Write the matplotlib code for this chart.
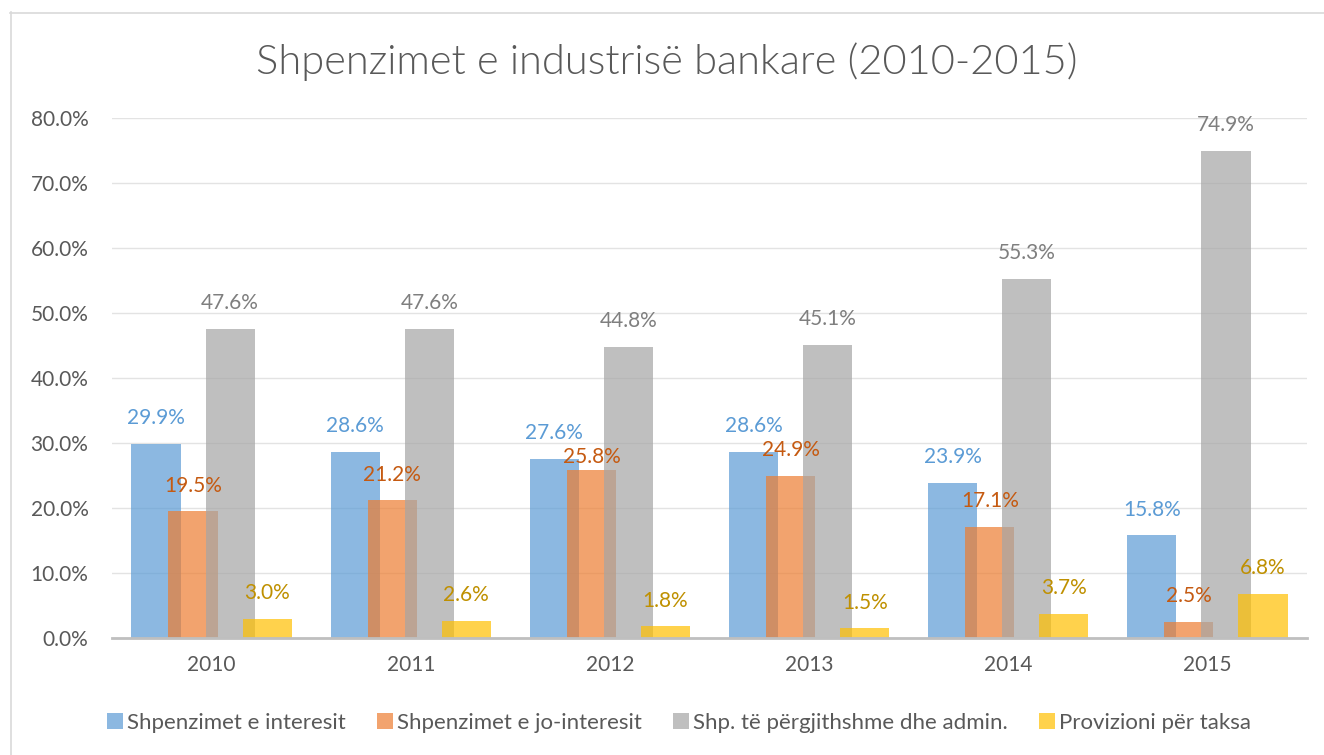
import matplotlib
matplotlib.use("Agg")
import matplotlib.pyplot as plt
from matplotlib.lines import Line2D
from matplotlib.patches import Patch
import numpy as np

years = ["2010", "2011", "2012", "2013", "2014", "2015"]
series_names = ["Shpenzimet e interesit", "Shpenzimet e jo-interesit",
                "Shp. të përgjithshme dhe admin.", "Provizioni për taksa"]
interest = [29.9, 28.6, 27.6, 28.6, 23.9, 15.8]
non_interest = [19.5, 21.2, 25.8, 24.9, 17.1, 2.5]
admin = [47.6, 47.6, 44.8, 45.1, 55.3, 74.9]
tax = [3.0, 2.6, 1.8, 1.5, 3.7, 6.8]
yticks = [0, 10, 20, 30, 40, 50, 60, 70, 80]

series = [interest, non_interest, admin, tax]
bar_colors = ["#5B9BD5", "#ED7D31", "#A5A5A5", "#FFC000"]
label_colors = ["#5B9BD5", "#C55A11", "#7F7F7F", "#BF9000"]

plt.rcParams['font.family'] = ['Lato', 'DejaVu Sans']

W, H = 1324, 755
fig = plt.figure(figsize=(W / 100, H / 100), dpi=100)
ax = fig.add_axes([112 / W, 1 - 638 / H, (1307 - 112) / W, (638 - 118) / H])

x = np.arange(len(years))
width = 0.247
step = 0.186
for i, (vals, col, lcol) in enumerate(zip(series, bar_colors, label_colors)):
    off = (i - 1.5) * step
    ax.bar(x + off, vals, width=width, color=col, alpha=0.7, zorder=2 + i,
           edgecolor='none')
    for j, v in enumerate(vals):
        dy = 18.5
        if i == 1 and j == 2:
            dy = 9.5
        ax.annotate(f"{v:.1f}%", (x[j] + off, v), xytext=(0, dy),
                    textcoords='offset points', ha='center', va='center',
                    fontsize=15, color=lcol, zorder=10)

ax.set_xlim(-0.5, len(years) - 0.5)
ax.set_ylim(0, 80)
ax.set_yticks(yticks)
ax.set_yticklabels([f"{t:.1f}%" for t in yticks])
ax.set_xticks(x)
ax.set_xticklabels(years)
ax.tick_params(axis='both', length=0, labelsize=15, labelcolor='#595959')
ax.tick_params(axis='y', pad=17)
ax.tick_params(axis='x', pad=12)
ax.grid(axis='y', color='#E3E3E3', lw=1, zorder=0)
ax.set_axisbelow(True)
for s in ['top', 'right', 'left']:
    ax.spines[s].set_visible(False)
ax.spines['bottom'].set_color('#BFBFBF')
ax.spines['bottom'].set_linewidth(2)
ax.spines['bottom'].set_zorder(20)

fig.text(0.5035, 1 - 62 / H, "Shpenzimet e industrisë bankare (2010-2015)",
         ha='center', va='center', fontsize=30, color='#595959',
         fontweight=300)

handles = [Patch(facecolor=c, alpha=0.7, edgecolor='none') for c in bar_colors]
fig.legend(handles, series_names, loc='center', bbox_to_anchor=(0.513, 1 - 723 / H),
           ncol=4, frameon=False, fontsize=16, handlelength=0.7, handleheight=0.7,
           handletextpad=0.2, columnspacing=1.4, labelcolor='#595959')

fig.add_artist(Line2D([10.5 / W, 10.5 / W], [0, 1 - 12 / H], color='#D9D9D9', lw=1.2,
                      transform=fig.transFigure))
fig.add_artist(Line2D([10 / W, 1], [1 - 12.5 / H, 1 - 12.5 / H], color='#D9D9D9', lw=1.2,
                      transform=fig.transFigure))

fig.savefig("out.png", dpi=100, facecolor='white')
